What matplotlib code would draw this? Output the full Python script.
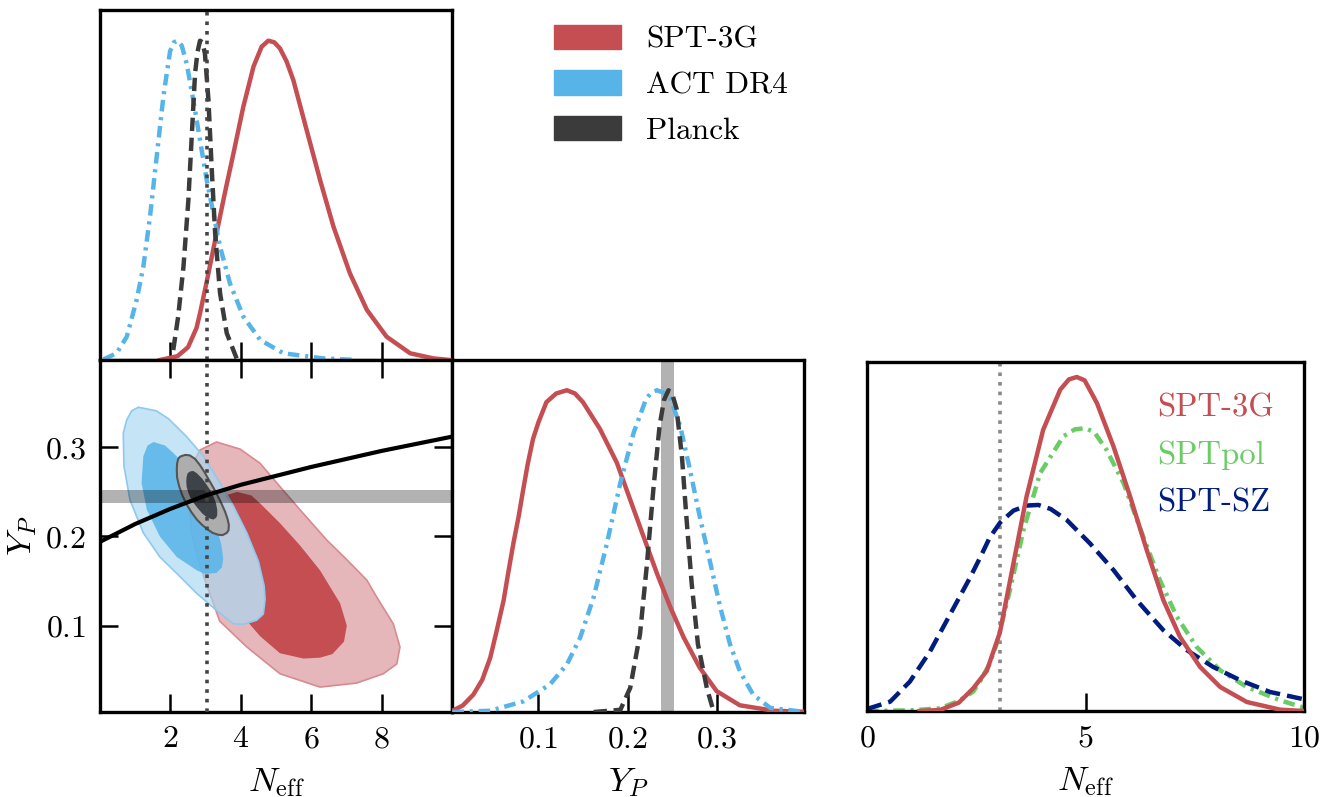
import matplotlib
matplotlib.use("Agg")
import matplotlib.pyplot as plt
from matplotlib.patches import Patch

# --- 1D posteriors (peak normalised) ---
# SPT-3G Neff, top-left panel
neff_3g_top_x = [1.70, 2.20, 2.50, 2.74, 2.84, 3.04, 3.31, 3.55, 3.79, 4.07, 4.36, 4.59, 4.78,
                 4.95, 5.11, 5.30, 5.49, 5.87, 6.25, 6.63, 7.10, 7.58, 8.14, 8.81, 9.47, 9.94]
neff_3g_top = [0.0, 0.012, 0.04, 0.10, 0.146, 0.25, 0.397, 0.525, 0.647, 0.793, 0.919, 0.981,
               1.0, 0.995, 0.976, 0.935, 0.877, 0.720, 0.564, 0.418, 0.271, 0.157, 0.073,
               0.021, 0.005, 0.0]

neff_act_x = [0.10, 0.47, 0.76, 1.04, 1.23, 1.42, 1.61, 1.80, 1.99, 2.10, 2.20, 2.32, 2.46,
              2.65, 2.84, 3.03, 3.22, 3.41, 3.69, 4.07, 4.55, 5.21, 6.34, 7.30]
neff_act = [0.002, 0.021, 0.073, 0.188, 0.292, 0.449, 0.637, 0.825, 0.967, 0.995, 1.0, 0.985,
            0.929, 0.814, 0.689, 0.564, 0.459, 0.355, 0.240, 0.136, 0.063, 0.021, 0.005, 0.0]

neff_planck_x = [2.08, 2.22, 2.37, 2.51, 2.61, 2.70, 2.77, 2.84, 2.91, 2.98, 3.08, 3.17, 3.27,
                 3.41, 3.60, 3.88]
neff_planck = [0.031, 0.136, 0.292, 0.501, 0.710, 0.898, 0.965, 1.0, 0.995, 0.96, 0.814,
               0.605, 0.397, 0.209, 0.084, 0.005]

yp_spt3g_x = [0.0035, 0.015, 0.027, 0.037, 0.046, 0.053, 0.061, 0.066, 0.072, 0.078, 0.083,
              0.088, 0.094, 0.100, 0.109, 0.120, 0.132, 0.141, 0.150, 0.169, 0.188, 0.203,
              0.218, 0.233, 0.248, 0.263, 0.281, 0.300, 0.326, 0.364, 0.397]
yp_spt3g = [0.004, 0.02, 0.054, 0.10, 0.169, 0.25, 0.347, 0.43, 0.525, 0.61, 0.692, 0.77,
            0.849, 0.90, 0.963, 0.99, 1.0, 0.99, 0.963, 0.880, 0.775, 0.660, 0.545, 0.431,
            0.326, 0.232, 0.138, 0.065, 0.021, 0.004, 0.001]

yp_act_x = [0.0035, 0.046, 0.083, 0.113, 0.132, 0.147, 0.162, 0.177, 0.192, 0.207, 0.221,
            0.227, 0.233, 0.240, 0.248, 0.259, 0.270, 0.281, 0.293, 0.304, 0.315, 0.326,
            0.341, 0.360, 0.397]
yp_act = [0.0, 0.004, 0.033, 0.086, 0.148, 0.232, 0.357, 0.525, 0.713, 0.869, 0.974, 0.993,
          1.0, 0.993, 0.974, 0.890, 0.754, 0.608, 0.462, 0.326, 0.211, 0.127, 0.054, 0.013,
          0.001]

yp_planck_x = [0.162, 0.192, 0.203, 0.214, 0.2215, 0.229, 0.236, 0.241, 0.246, 0.250, 0.255,
               0.261, 0.266, 0.272, 0.279, 0.289, 0.296]
yp_planck = [0.0, 0.007, 0.075, 0.242, 0.451, 0.692, 0.890, 0.97, 1.0, 0.99, 0.943, 0.796,
             0.608, 0.399, 0.211, 0.075, 0.007]

# SPT family comparison, right panel (SPT-3G peak = 1)
neff_3g_x = [1.20, 1.67, 2.10, 2.43, 2.74, 3.04, 3.35, 3.65, 4.03, 4.42, 4.62, 4.80, 4.98,
             5.26, 5.64, 6.02, 6.40, 6.78, 7.16, 7.62, 8.08, 8.69, 9.45, 10.0]
neff_3g = [0.0, 0.003, 0.025, 0.068, 0.12, 0.235, 0.442, 0.642, 0.842, 0.962, 0.993, 1.0,
           0.99, 0.922, 0.792, 0.642, 0.482, 0.332, 0.222, 0.132, 0.072, 0.027, 0.004, 0.0]

sptpol_x = [0.0, 1.0, 1.67, 2.10, 2.43, 2.59, 2.80, 2.97, 3.27, 3.58, 3.96, 4.49, 4.75, 4.99,
            5.20, 5.48, 5.87, 6.32, 6.70, 7.09, 7.54, 8.08, 8.69, 9.45, 10.0]
sptpol = [0.0, 0.002, 0.008, 0.03, 0.058, 0.09, 0.14, 0.202, 0.362, 0.542, 0.712, 0.822,
          0.843, 0.847, 0.835, 0.782, 0.682, 0.522, 0.392, 0.282, 0.192, 0.122, 0.072, 0.032,
          0.010]

sptsz_x = [0.0, 0.53, 0.98, 1.44, 1.90, 2.36, 2.59, 2.81, 3.05, 3.35, 3.65, 3.92, 4.20, 4.57,
           5.10, 5.64, 6.17, 6.78, 7.32, 7.92, 8.54, 9.22, 10.0]
sptsz = [0.006, 0.028, 0.088, 0.178, 0.289, 0.40, 0.46, 0.52, 0.565, 0.60, 0.615, 0.617,
         0.605, 0.572, 0.502, 0.422, 0.332, 0.242, 0.182, 0.132, 0.092, 0.057, 0.035]

# --- 2D contours (Neff, Yp) ---
spt3g_95_x = [3.31, 3.98, 4.55, 5.11, 5.68, 6.44, 7.01, 7.58, 7.86, 8.33, 8.52, 8.43, 8.05,
              7.29, 6.25, 5.11, 4.17, 3.40, 2.98, 2.79, 2.60, 2.51, 2.60, 2.84]
spt3g_95_y = [0.306, 0.298, 0.282, 0.256, 0.230, 0.196, 0.174, 0.151, 0.132, 0.102, 0.076,
              0.057, 0.046, 0.0355, 0.031, 0.046, 0.076, 0.105, 0.151, 0.174, 0.204, 0.241,
              0.279, 0.297]
spt3g_68_x = [3.55, 3.90, 4.30, 4.55, 5.11, 5.68, 6.25, 6.82, 7.01, 6.93, 6.60, 6.25, 5.78,
              5.11, 4.55, 4.20, 4.45, 4.64, 4.69, 4.66, 4.50, 4.17, 3.79]
spt3g_68_y = [0.246, 0.250, 0.246, 0.237, 0.215, 0.190, 0.162, 0.125, 0.100, 0.082, 0.068,
              0.064, 0.063, 0.069, 0.088, 0.104, 0.106, 0.113, 0.130, 0.145, 0.172, 0.204, 0.234]

act_95_x = [1.09, 1.60, 1.95, 2.46, 2.94, 3.41, 3.79, 4.17, 4.50, 4.66, 4.69, 4.64, 4.45,
            4.07, 3.79, 3.31, 2.75, 2.27, 1.70, 1.23, 0.85, 0.68, 0.66, 0.76, 0.90]
act_95_y = [0.345, 0.341, 0.332, 0.312, 0.290, 0.260, 0.234, 0.204, 0.172, 0.145, 0.130,
            0.113, 0.106, 0.1015, 0.102, 0.117, 0.136, 0.155, 0.177, 0.204, 0.241, 0.279,
            0.316, 0.331, 0.341]
act_68_x = [1.52, 1.85, 2.10, 2.46, 2.80, 3.10, 3.30, 3.45, 3.50, 3.46, 3.30, 2.98, 2.75,
            2.18, 1.70, 1.33, 1.18, 1.23, 1.35]
act_68_y = [0.306, 0.302, 0.293, 0.278, 0.258, 0.235, 0.212, 0.190, 0.175, 0.165, 0.159,
            0.158, 0.162, 0.177, 0.200, 0.230, 0.260, 0.290, 0.302]

planck_95_x = [2.30, 2.42, 2.55, 2.70, 2.84, 2.97, 3.10, 3.23, 3.35, 3.46, 3.55, 3.62, 3.66,
               3.65, 3.60, 3.48, 3.35, 3.20, 3.05, 2.90, 2.75, 2.60, 2.46, 2.34, 2.25, 2.19,
               2.18, 2.19, 2.22, 2.26]
planck_95_y = [0.290, 0.2915, 0.291, 0.287, 0.280, 0.272, 0.263, 0.254, 0.245, 0.236, 0.228,
               0.220, 0.213, 0.207, 0.204, 0.2015, 0.202, 0.204, 0.208, 0.213, 0.219, 0.227,
               0.236, 0.246, 0.256, 0.266, 0.275, 0.282, 0.287, 0.289]
planck_68_x = [2.56, 2.65, 2.75, 2.90, 3.03, 3.13, 3.22, 3.29, 3.33, 3.33, 3.30, 3.22, 3.13,
               3.02, 2.90, 2.77, 2.65, 2.56, 2.50, 2.46, 2.45, 2.46, 2.49]
planck_68_y = [0.273, 0.2735, 0.271, 0.265, 0.258, 0.252, 0.245, 0.238, 0.230, 0.224, 0.221,
               0.219, 0.220, 0.222, 0.226, 0.232, 0.238, 0.244, 0.250, 0.256, 0.262, 0.267,
               0.271]

bbn_neff = [0, 1, 2, 3, 4, 5, 6, 7, 8, 9, 10]
bbn_yp = [0.194, 0.214, 0.231, 0.246, 0.258, 0.268, 0.278, 0.287, 0.296, 0.304, 0.312]

yp_band = (0.238, 0.252)
neff_std = 3.046

red = "#c44e52"
blue = "#56b4e9"
dark = "#3b3b3b"
green = "#6acc64"
navy = "#001c7f"

plt.rcParams.update({
    "font.family": "serif",
    "font.serif": ["cmr10"],
    "mathtext.fontset": "cm",
    "axes.formatter.use_mathtext": True,
    "font.size": 23,
    "axes.labelsize": 25,
    "axes.linewidth": 2.4,
    "lines.solid_joinstyle": "round",
    "lines.dash_joinstyle": "round",
})

fig = plt.figure(figsize=(13.3, 7.97), dpi=100)
ax_top = fig.add_axes([0.0752, 0.5483, 0.2647, 0.4391])
ax_2d = fig.add_axes([0.0752, 0.1066, 0.2647, 0.4417])
ax_yp = fig.add_axes([0.3398, 0.1066, 0.2647, 0.4417])
ax_r = fig.add_axes([0.6519, 0.1079, 0.3286, 0.4379])

tick_kw = dict(direction="in", length=13, width=1.8, pad=10)
lw = 3.2
dash_black = (3.0, 1.5)
dashdot = (2.6, 1.3, 0.7, 1.3)

# top-left: Neff 1D
ax_top.plot(neff_3g_top_x, neff_3g_top, color=red, lw=lw, zorder=3)
ax_top.plot(neff_act_x, neff_act, color=blue, lw=lw, dashes=dashdot, zorder=3)
ax_top.plot(neff_planck_x, neff_planck, color=dark, lw=lw, dashes=dash_black, zorder=4)
ax_top.axvline(neff_std, color="#444444", ls=":", lw=2.6, zorder=5)
ax_top.set_xlim(0, 10)
ax_top.set_ylim(0, 1.096)
ax_top.set_xticks([2, 4, 6, 8])
ax_top.set_xticklabels([])
ax_top.set_yticks([])
ax_top.tick_params(axis="x", bottom=True, top=False, **tick_kw)

# 2D panel
ax_2d.fill(spt3g_95_x, spt3g_95_y, facecolor="#e5b7ba", edgecolor="#d98a8e", lw=1.2, zorder=1)
ax_2d.fill(spt3g_68_x, spt3g_68_y, facecolor=red, edgecolor="none", zorder=1.5)
ax_2d.fill(act_95_x, act_95_y, facecolor=(0.65, 0.84, 0.945, 0.65), edgecolor="#8ec9ee", lw=1.2, zorder=2)
ax_2d.fill(act_68_x, act_68_y, facecolor=(0.337, 0.706, 0.914, 0.85), edgecolor="none", zorder=2.5)
ax_2d.fill(planck_95_x, planck_95_y, facecolor="#adadad", edgecolor="#555555", lw=1.5, zorder=3)
ax_2d.fill(planck_68_x, planck_68_y, facecolor="#3d4349", edgecolor="none", zorder=3.5)
ax_2d.axhspan(yp_band[0], yp_band[1], color="black", alpha=0.3, lw=0, zorder=4)
ax_2d.plot(bbn_neff, bbn_yp, color="black", lw=3, zorder=5)
ax_2d.axvline(neff_std, color="#444444", ls=":", lw=2.6, zorder=6)
ax_2d.set_xlim(0, 10)
ax_2d.set_ylim(0.003, 0.398)
ax_2d.set_xticks([2, 4, 6, 8])
ax_2d.set_yticks([0.1, 0.2, 0.3])
ax_2d.tick_params(axis="both", top=True, right=True, **tick_kw)
ax_2d.set_xlabel(r"$N_{\rm eff}$", labelpad=9)
ax_2d.set_ylabel(r"$Y_P$", labelpad=4)

# middle: Yp 1D
ax_yp.axvspan(yp_band[0], yp_band[1], color="black", alpha=0.3, lw=0, zorder=1)
ax_yp.plot(yp_spt3g_x, yp_spt3g, color=red, lw=lw, zorder=3)
ax_yp.plot(yp_act_x, yp_act, color=blue, lw=lw, dashes=dashdot, zorder=3)
ax_yp.plot(yp_planck_x, yp_planck, color=dark, lw=lw, dashes=dash_black, zorder=4)
ax_yp.set_xlim(0.003, 0.398)
ax_yp.set_ylim(0, 1.094)
ax_yp.set_xticks([0.1, 0.2, 0.3])
ax_yp.set_yticks([])
ax_yp.tick_params(axis="x", **tick_kw)
ax_yp.set_xlabel(r"$Y_P$", labelpad=9)

# right: SPT comparison
ax_r.axvline(neff_std, color="#888888", ls=":", lw=2.6, zorder=1)
ax_r.plot(neff_3g_x, neff_3g, color=red, lw=lw, zorder=3, label="SPT-3G")
ax_r.plot(sptpol_x, sptpol, color=green, lw=lw, dashes=dashdot, zorder=2, label="SPTpol")
ax_r.plot(sptsz_x, sptsz, color=navy, lw=lw, dashes=(3.4, 1.6), zorder=2, label="SPT-SZ")
ax_r.set_xlim(0, 10)
ax_r.set_ylim(0, 1.045)
ax_r.set_xticks([0, 5, 10])
ax_r.set_yticks([])
ax_r.tick_params(axis="x", **tick_kw)
ax_r.set_xlabel(r"$N_{\rm eff}$", labelpad=9)
ax_r.legend(handlelength=0, handletextpad=0, labelcolor="linecolor", frameon=False,
            loc="upper left", bbox_to_anchor=(0.664, 0.91), borderpad=0, borderaxespad=0,
            labelspacing=0.56, fontsize=23.5)
for h in ax_r.get_legend().legend_handles:
    h.set_visible(False)

# top legend
handles = [Patch(color=red), Patch(color=blue), Patch(color=dark)]
fig.legend(handles, ["SPT-3G", "ACT DR4", "Planck"], loc="upper left",
           bbox_to_anchor=(0.395, 1.0045), frameon=False, fontsize=22.6,
           handlelength=2.15, handleheight=0.82, handletextpad=0.8, labelspacing=0.52)

fig.savefig("out.png", dpi=100)
